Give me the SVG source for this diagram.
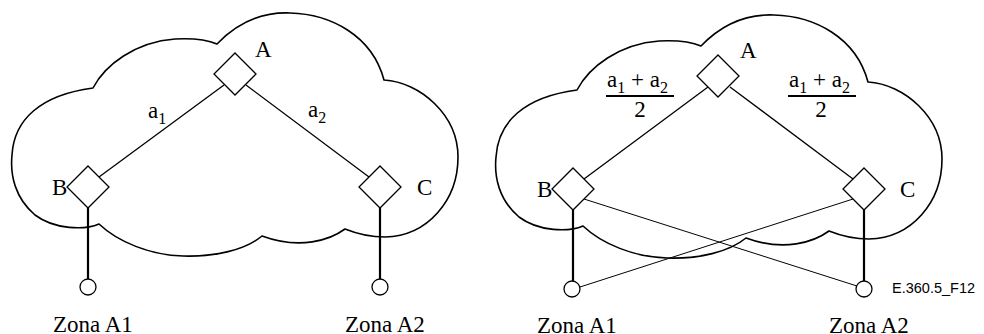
<svg xmlns="http://www.w3.org/2000/svg" xmlns:xlink="http://www.w3.org/1999/xlink" width="984" height="334" viewBox="0 0 984 334">
  <style>
    .cloud { fill: none; stroke: #000; stroke-width: 1.6; stroke-linejoin: round; }
    .node { fill: #fff; stroke: #000; stroke-width: 1.3; }
    .link { stroke: #000; stroke-width: 1.3; fill: none; }
    .thin { stroke: #000; stroke-width: 1; fill: none; }
    .drop { stroke: #000; stroke-width: 2.2; fill: none; }
    .bar { stroke: #000; stroke-width: 2; }
    text { font-family: "Liberation Serif", "Times New Roman", serif; font-size: 23px; fill: #000; }
    .sub { font-size: 16px; }
    .ref { font-family: "Liberation Sans", Arial, sans-serif; font-size: 14.5px; }
  </style>
  <defs>
    <path id="cloudShape" d="M217,44 C240,20 265,12 290,13 C330,14 372,35 384,80 C420,82 458,115 458,157 C458,200 428,236 385,237 C368,237 355,233 345,229 C330,240 300,250 262,236 C245,250 215,257 183,256 C150,255 118,242 99,224 C85,230 55,230 35,215 C15,198 10,175 12,155 C14,120 40,95 93,88 C105,65 135,42 175,39 C195,38 210,41 217,44 Z"/>
    <polygon id="router" points="0,-21 21,0 0,21 -21,0"/>
  </defs>

  <!-- network clouds -->
  <g id="cloud-left"><use xlink:href="#cloudShape" class="cloud"/></g>
  <g id="cloud-right"><use xlink:href="#cloudShape" class="cloud" transform="translate(484,2)"/></g>

  <!-- connectors -->
  <g id="connectors">
    <!-- left network -->
    <line class="link" x1="224" y1="85" x2="99" y2="177"/>
    <line class="link" x1="246" y1="85" x2="369" y2="177"/>
    <line class="drop" x1="88" y1="208" x2="88" y2="279"/>
    <line class="drop" x1="380" y1="208" x2="380" y2="279"/>
    <!-- right network -->
    <line class="link" x1="708" y1="87" x2="584" y2="179"/>
    <line class="link" x1="730" y1="87" x2="853" y2="179"/>
    <line class="drop" x1="573" y1="210" x2="573" y2="281"/>
    <line class="drop" x1="864" y1="210" x2="864" y2="281"/>
    <line class="thin" x1="584" y1="199" x2="857" y2="286"/>
    <line class="thin" x1="580" y1="287" x2="853" y2="199"/>
  </g>

  <!-- left network nodes -->
  <g id="left-A">
    <use xlink:href="#router" class="node" transform="translate(235,74)"/>
    <text x="255" y="57">A</text>
  </g>
  <g id="left-B">
    <use xlink:href="#router" class="node" transform="translate(88,187)"/>
    <text x="52" y="195">B</text>
  </g>
  <g id="left-C">
    <use xlink:href="#router" class="node" transform="translate(380,187)"/>
    <text x="417" y="195">C</text>
  </g>
  <g id="left-zone1">
    <circle class="node" cx="88" cy="287" r="8"/>
    <text x="53" y="332">Zona A1</text>
  </g>
  <g id="left-zone2">
    <circle class="node" cx="380" cy="287" r="8"/>
    <text x="345" y="332">Zona A2</text>
  </g>
  <g id="left-labels">
    <text x="148" y="118">a<tspan class="sub" dy="6">1</tspan></text>
    <text x="308" y="117">a<tspan class="sub" dy="6">2</tspan></text>
  </g>

  <!-- right network nodes -->
  <g id="right-A">
    <use xlink:href="#router" class="node" transform="translate(718,76)"/>
    <text x="740" y="58">A</text>
  </g>
  <g id="right-B">
    <use xlink:href="#router" class="node" transform="translate(573,189)"/>
    <text x="537" y="197">B</text>
  </g>
  <g id="right-C">
    <use xlink:href="#router" class="node" transform="translate(864,189)"/>
    <text x="900" y="197">C</text>
  </g>
  <g id="right-zone1">
    <circle class="node" cx="572" cy="289" r="8"/>
    <text x="537" y="333">Zona A1</text>
  </g>
  <g id="right-zone2">
    <circle class="node" cx="864" cy="289" r="8"/>
    <text x="829" y="333">Zona A2</text>
  </g>
  <g id="right-labels">
    <text x="607" y="87">a<tspan class="sub" dy="6">1</tspan><tspan dy="-6"> + a</tspan><tspan class="sub" dy="6">2</tspan></text>
    <line class="bar" x1="606" y1="96" x2="674" y2="96"/>
    <text x="640" y="117" text-anchor="middle">2</text>
    <text x="789" y="87">a<tspan class="sub" dy="6">1</tspan><tspan dy="-6"> + a</tspan><tspan class="sub" dy="6">2</tspan></text>
    <line class="bar" x1="788" y1="96" x2="856" y2="96"/>
    <text x="821" y="117" text-anchor="middle">2</text>
  </g>

  <text class="ref" x="892" y="293">E.360.5_F12</text>
</svg>
